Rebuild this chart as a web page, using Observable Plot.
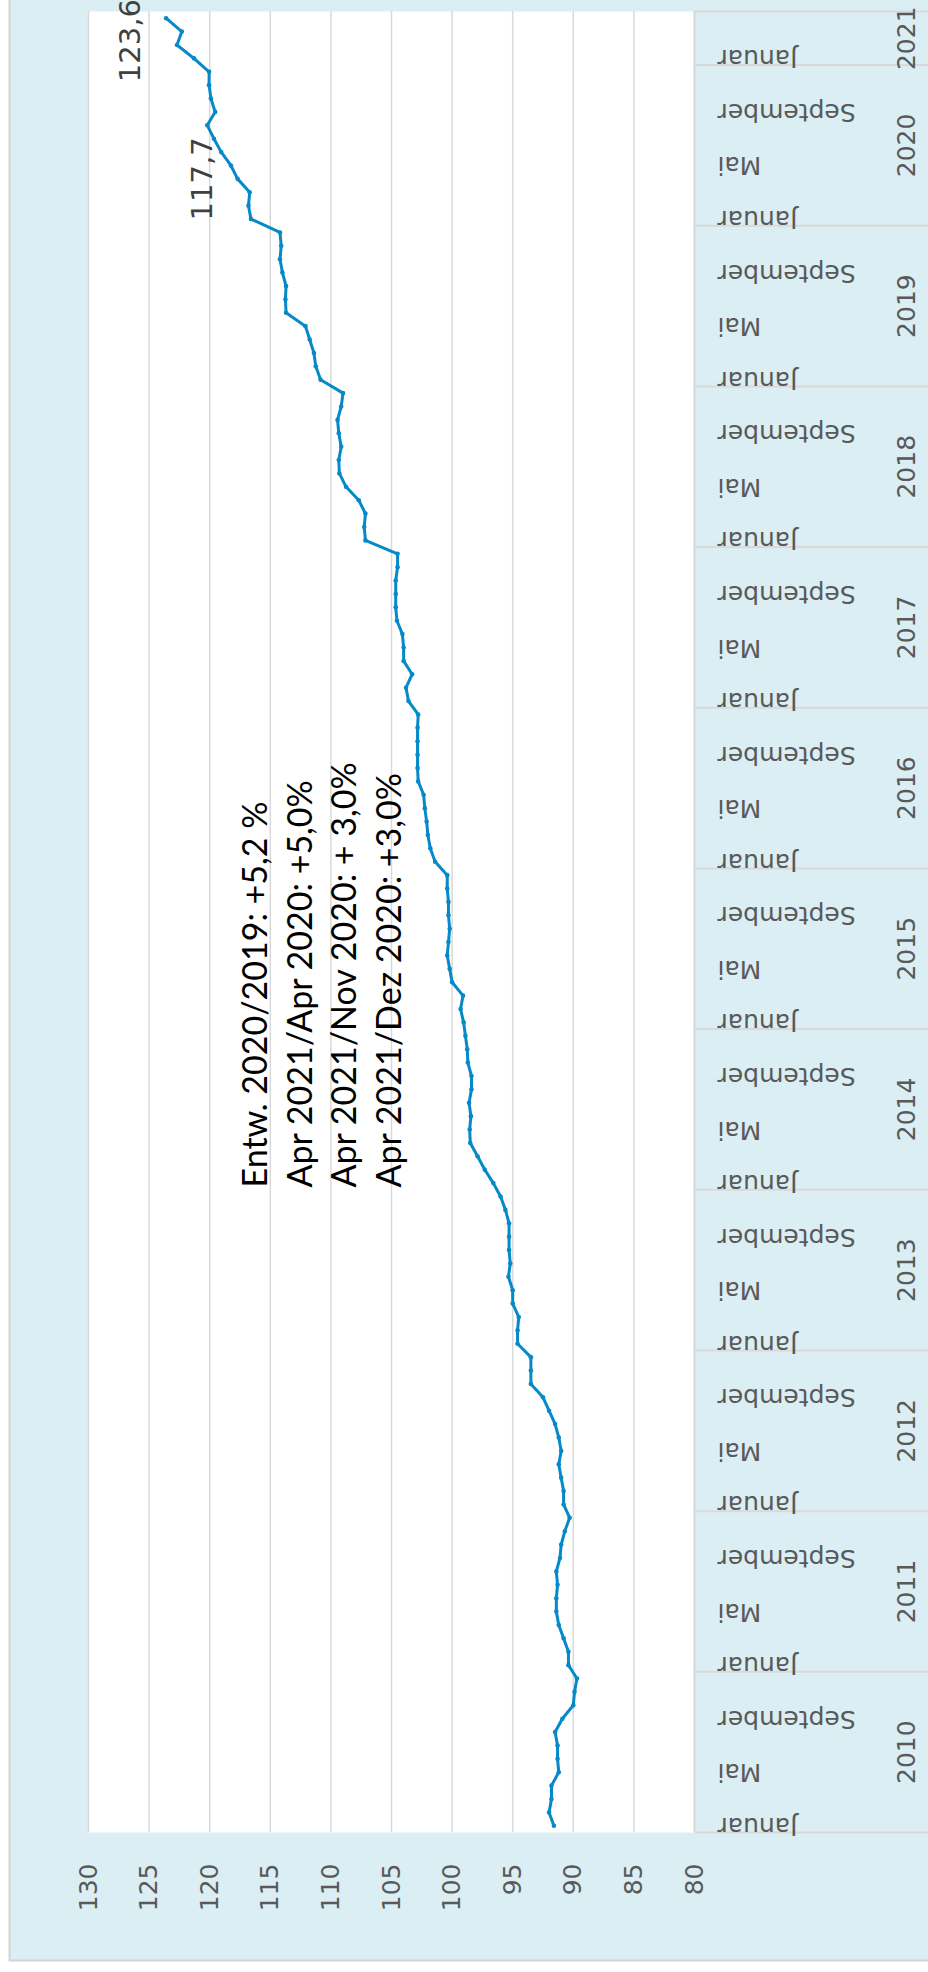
<!DOCTYPE html>
<html>
<head>
<meta charset="utf-8">
<script src="https://cdn.jsdelivr.net/npm/d3@7"></script>
<script src="https://cdn.jsdelivr.net/npm/@observablehq/plot@0.6"></script>
<style>
  html, body { margin: 0; padding: 0; background: #ffffff; }
  #chart svg { display: block; }
</style>
</head>
<body>
<div id="chart"></div>
<script>
// ---- data (index values, monthly, Jan 2010 – Apr 2021) ----
const startYear = 2010;
const v2010 = [91.6, 92.0, 91.8, 91.8, 91.2, 91.3, 91.3, 91.5, 90.9, 90.0, 89.9, 89.7];
const v2011 = [90.4, 90.4, 90.8, 91.2, 91.4, 91.4, 91.3, 91.4, 91.1, 91.0, 90.7, 90.3];
const v2012 = [90.8, 90.8, 91.0, 91.2, 91.0, 91.2, 91.5, 92.0, 92.5, 93.5, 93.5, 93.5];
const v2013 = [94.6, 94.6, 94.5, 95.0, 95.0, 95.35, 95.2, 95.3, 95.3, 95.3, 95.6, 96.0];
const v2014 = [96.6, 97.3, 97.9, 98.5, 98.55, 98.45, 98.6, 98.4, 98.4, 98.7, 98.75, 98.9];
const v2015 = [99.05, 99.3, 99.1, 100.0, 100.2, 100.4, 100.3, 100.2, 100.3, 100.3, 100.4, 100.4];
const v2016 = [101.4, 101.8, 102.0, 102.1, 102.25, 102.35, 102.8, 102.85, 102.85, 102.85, 102.85, 102.8];
const v2017 = [103.6, 103.8, 103.3, 104.0, 104.0, 104.1, 104.55, 104.65, 104.65, 104.65, 104.5, 104.5];
const v2018 = [107.15, 107.25, 107.15, 107.7, 108.75, 109.3, 109.35, 109.15, 109.35, 109.45, 109.15, 109.0];
const v2019 = [110.85, 111.25, 111.4, 111.75, 112.1, 113.7, 113.75, 113.7, 114.0, 114.2, 114.1, 114.2];
const v2020 = [116.6, 116.8, 116.7, 117.7, 118.25, 119.05, 119.65, 120.2, 119.55, 119.9, 120.05, 120.05];
const v2021 = [121.3, 122.7, 122.3, 123.6];
const yearSeries = [v2010, v2011, v2012, v2013, v2014, v2015, v2016, v2017, v2018, v2019, v2020, v2021];

const monthLabels = ["Januar", "Mai", "September"];
const monthLabelIndex = [0, 4, 8];           // months (0 = Jan) that carry a label
const valueTicks = [130, 125, 120, 115, 110, 105, 100, 95, 90, 85, 80];
const labelledPoints = [[2020, 3], [2021, 3]]; // [year, month] of value labels
const calloutLines = [
  "Entw. 2020/2019: +5,2 %",
  "Apr 2021/Apr 2020: +5,0%",
  "Apr 2021/Nov 2020: + 3,0%",
  "Apr 2021/Dez 2020: +3,0%"
];

// ---- tables built from the arrays ----
const rows = [];
yearSeries.forEach((vals, yi) => {
  vals.forEach((v, m) => rows.push({i: rows.length, year: startYear + yi, month: m, value: v}));
});
const years = yearSeries.map((vals, yi) => {
  const first = rows.find(r => r.year === startYear + yi).i;
  return {year: String(startYear + yi), first, last: first + vals.length - 1, mid: first + (vals.length - 1) / 2};
});
const boundaries = years.map(y => y.first - 0.5).concat([rows.length - 0.5]);
const monthRows = rows.filter(r => monthLabelIndex.includes(r.month));
const fmt = v => v.toFixed(1).replace(".", ",");
const isLabelled = (r, k) => r.year === labelledPoints[k][0] && r.month === labelledPoints[k][1];

// ---- layout ----
const W = 928, H = 1972, ML = 88, MR = 234, MT = 11, MB = 140;
const innerW = W - ML - MR;
const LINE = "#0689C8";
const GRID = "#D9D9D9";
const GREY = "#595959";
const SANS = "DejaVu Sans, Verdana, sans-serif";

const chart = Plot.plot({
  width: W,
  height: H,
  marginLeft: ML,
  marginRight: MR,
  marginTop: MT,
  marginBottom: MB,
  style: {background: "transparent", overflow: "visible"},
  x: {domain: [80, 130], reverse: true, axis: null},
  y: {domain: [-0.5, rows.length - 0.5], axis: null},
  marks: [
    // outer chart area
    Plot.frame({fill: "#DAEEF3", stroke: "#D4D4D4", strokeWidth: 2,
      insetLeft: -79, insetTop: -40, insetRight: -260, insetBottom: -128}),
    // category-axis separators at each January
    Plot.ruleY(boundaries, {y: d => d, stroke: GRID, strokeWidth: 2, insetLeft: innerW, insetRight: -MR}),
    // plot area
    Plot.frame({fill: "white", stroke: "none"}),
    Plot.ruleX(valueTicks, {x: d => d, stroke: GRID, strokeWidth: 1.5}),
    Plot.ruleX([80], {x: d => d, stroke: GRID, strokeWidth: 2}),
    // series
    Plot.line(rows, {x: "value", y: "i", stroke: LINE, strokeWidth: 3, curve: "linear"}),
    Plot.dot(rows, {x: "value", y: "i", r: 2.3, fill: LINE, stroke: "none"}),
    // value axis labels
    Plot.text(valueTicks, {x: d => d, text: d => String(d), frameAnchor: "bottom", dy: 31,
      rotate: -90, textAnchor: "end", lineAnchor: "middle", fontSize: 25, fill: GREY, fontFamily: SANS}),
    // month labels
    Plot.text(monthRows, {y: "i", text: r => monthLabels[monthLabelIndex.indexOf(r.month)],
      frameAnchor: "right", dx: 23, rotate: 180, textAnchor: "end", lineAnchor: "middle",
      fontSize: 25, fill: GREY, fontFamily: SANS}),
    // year labels
    Plot.text(years, {y: "mid", text: "year", frameAnchor: "right", dx: 212, rotate: -90,
      textAnchor: "middle", lineAnchor: "middle", fontSize: 25, fill: GREY, fontFamily: SANS}),
    // data labels
    Plot.text(rows.filter(r => isLabelled(r, 0)), {x: "value", y: "i", text: r => fmt(r.value),
      dx: -35, rotate: -90, textAnchor: "middle", lineAnchor: "middle", fontSize: 29, fill: "#404040", fontFamily: SANS}),
    Plot.text(rows.filter(r => isLabelled(r, 1)), {x: "value", y: "i", text: r => fmt(r.value),
      dx: -35, dy: 64, rotate: -90, textAnchor: "start", lineAnchor: "middle", fontSize: 29, fill: "#404040", fontFamily: SANS}),
    // annotation box
    Plot.text([calloutLines.join("\n")], {text: d => d, frameAnchor: "bottom-left", dx: 147, dy: -645,
      rotate: -90, textAnchor: "start", lineAnchor: "top", lineHeight: 1.31, fontSize: 34,
      fill: "black", fontFamily: "Lato, Calibri, sans-serif"})
  ]
});
document.getElementById("chart").appendChild(chart);
</script>
</body>
</html>
